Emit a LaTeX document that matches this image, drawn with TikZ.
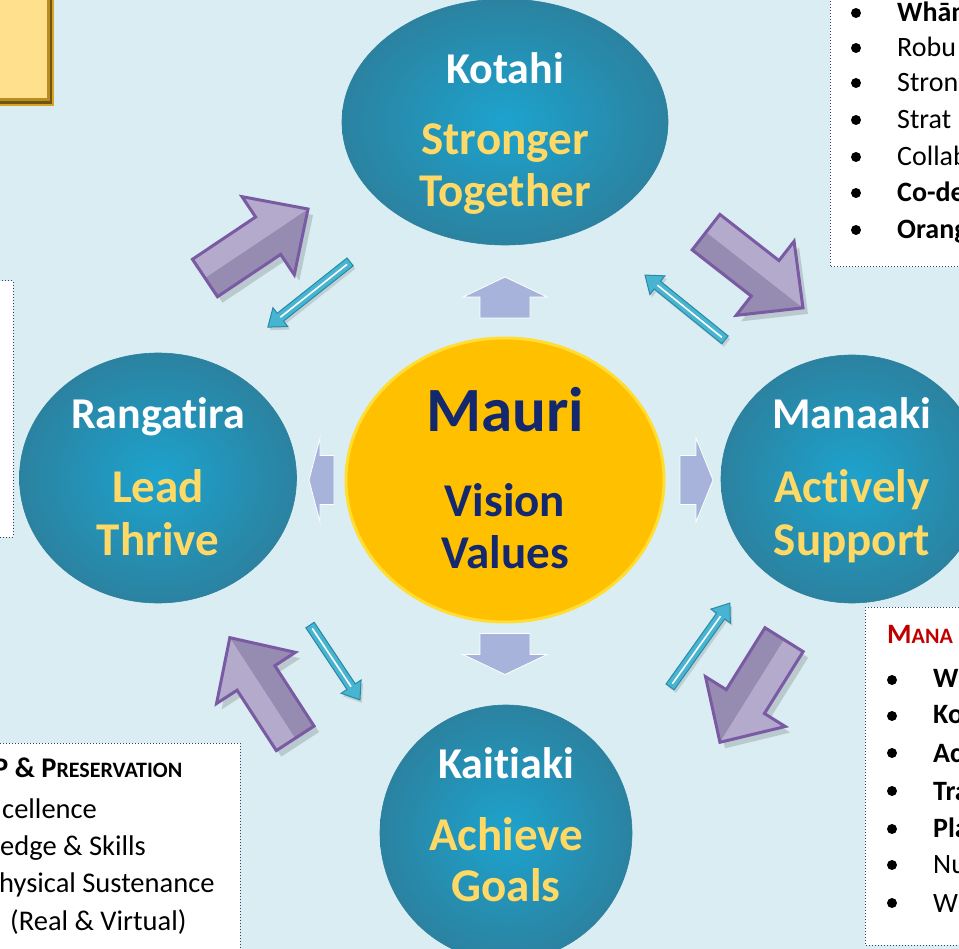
\documentclass[tikz,border=0pt]{standalone}
\usepackage{fontspec}
\setmainfont{Carlito}[Ligatures=NoCommon]
\usetikzlibrary{shapes.geometric}
\definecolor{bgc}{HTML}{DAEDF3}
\definecolor{goldtxt}{HTML}{FFD966}
\definecolor{navytxt}{HTML}{14286E}
\definecolor{tealin}{HTML}{1DA3CE}
\definecolor{tealout}{HTML}{2B82A0}
\definecolor{mauriY}{HTML}{FFC000}
\definecolor{mauriE}{HTML}{FFDD33}
\definecolor{purpA}{HTML}{968CB2}
\definecolor{purpL}{HTML}{B3AACC}
\definecolor{purpE}{HTML}{7A5AA2}
\definecolor{cyanA}{HTML}{47B4D1}
\definecolor{cyanE}{HTML}{2A8AA5}
\definecolor{periA}{HTML}{A7B3DA}
\definecolor{redtxt}{HTML}{C00000}
\definecolor{boxline}{HTML}{34406A}
\definecolor{yelbox}{HTML}{FFE08C}
\definecolor{yeldark}{HTML}{6E5416}
\definecolor{yelgold}{HTML}{D9A520}

% x, y, angle, length, shaft width, head width, head length, style
\newcommand\ArrPath[8]{%
  \begin{scope}[shift={(#1,#2)},rotate=#3]
    \path[#8] ({-(#4)/2},{(#5)/2}) -- ({(#4)/2-(#7)},{(#5)/2}) -- ({(#4)/2-(#7)},{(#6)/2})
      -- ({(#4)/2},0) -- ({(#4)/2-(#7)},{-(#6)/2}) -- ({(#4)/2-(#7)},{-(#5)/2})
      -- ({-(#4)/2},{-(#5)/2}) -- cycle;
  \end{scope}}
\newcommand\PArr[4]{%
  \ArrPath{#1+5}{#2+6}{#3}{#4}{45}{94}{48}{fill=black,opacity=.15}%
  \ArrPath{#1}{#2}{#3}{#4}{45}{94}{48}{fill=purpA}%
  \begin{scope}[shift={(#1,#2)},rotate=#3]
    \fill[purpL] ({-(#4)/2},0) -- ({(#4)/2},0) -- ({(#4)/2-48},-47) -- ({(#4)/2-48},-22.5) -- ({-(#4)/2},-22.5) -- cycle;
  \end{scope}
  \ArrPath{#1}{#2}{#3}{#4}{45}{94}{48}{draw=purpE,line width=3pt,line join=miter}}
\newcommand\CArr[4]{%
  \ArrPath{#1+2}{#2+3}{#3}{#4}{10}{24}{16}{fill=black,opacity=.12}%
  \ArrPath{#1}{#2}{#3}{#4}{10}{24}{16}{fill=cyanA,draw=cyanE,line width=1pt}%
  \begin{scope}[shift={(#1,#2)},rotate=#3]
    \draw[white,line width=1.6pt] ({-(#4)/2+4},0) -- ({(#4)/2-16},0);
  \end{scope}}
\newcommand\SArr[7]{\ArrPath{#1}{#2}{#3}{#4}{#5}{#6}{#7}{fill=periA,draw=white,line width=.8pt}}

\begin{document}
\begin{tikzpicture}[x=1pt,y=-1pt,
  tealc/.style={ellipse,inner sep=0,shading=radial,inner color=tealin,outer color=tealout,draw=tealout,line width=.6pt},
  mauric/.style={ellipse,inner sep=0,fill=mauriY,draw=mauriE,line width=3pt},
  nm/.style={font=\fontsize{44}{50}\selectfont\bfseries,text=white,anchor=base,inner sep=0},
  gd/.style={font=\fontsize{47}{54}\selectfont\bfseries,text=goldtxt,anchor=base,inner sep=0},
  nv/.style={font=\fontsize{47}{54}\selectfont\bfseries,text=navytxt,anchor=base,inner sep=0},
  txtbox/.style={fill=white,draw=boxline,dotted,line width=1pt},
  bl/.style={font=\fontsize{28.5}{33}\selectfont,anchor=base west,inner sep=0},
  tr/.style={font=\fontsize{28}{33}\selectfont,anchor=base west,inner sep=0},
  br/.style={font=\fontsize{28}{33}\selectfont,anchor=base west,inner sep=0},
  bul/.style={fill=black}]
\useasboundingbox (0,0) rectangle (959,949);
\clip (0,0) rectangle (959,949);
\fill[bgc] (0,0) rectangle (959,949);

% top-left yellow box
\fill[yelgold] (-5,-5) rectangle (54,106);
\fill[yeldark] (-5,-5) rectangle (52,104);
\fill[yelgold!70!yeldark] (-5,-5) rectangle (50,101);
\fill[yelbox] (-5,-5) rectangle (47,98);

% text boxes
\path[txtbox] (830,-5) rectangle (970,267);
\path[txtbox] (-5,281) rectangle (13,537);
\path[txtbox] (-5,743) rectangle (240,960);
\path[txtbox] (865,607) rectangle (970,945);

% top-right box text
\foreach \yy in {13,48,83,120,157,193,230} {\fill[bul] (856,\yy) circle[radius=5pt];}
\node[tr] (t1) at (897,22) {\bfseries Whān};
\node[tr] (t2) at (897,57) {Robu};
\node[tr] (t3) at (897,92) {Stron};
\node[tr] (t4) at (897,129) {Strat};
\node[tr] (t5) at (897,166) {Collab};
\node[tr] (t6) at (897,202) {\bfseries Co-de};
\node[tr] (t7) at (897,239) {\bfseries Orang};

% bottom-left box text
\node[bl] (b0) at (-7,777) {\bfseries P \& P{\fontsize{22}{26}\selectfont RESERVATION}};
\node[bl] (b1) at (2,818) {cellence};
\node[bl] (b2) at (0,855) {edge \& Skills};
\node[bl] (b3) at (-1,892) {hysical Sustenance};
\node[bl] (b4) at (10,930) {(Real \& Virtual)};

% bottom-right box text
\node[br,text=redtxt] (r0) at (887,643) {\bfseries M{\fontsize{22}{26}\selectfont ANA}};
\foreach \yy in {680,716,753,791,829,865,903} {\fill[bul] (892,\yy) circle[radius=5pt];}
\node[br] (r1) at (933,687) {\bfseries W};
\node[br] (r2) at (933,723) {\bfseries Ko};
\node[br] (r3) at (933,762) {\bfseries Ac};
\node[br] (r4) at (933,800) {\bfseries Tra};
\node[br] (r5) at (933,837) {\bfseries Pla};
\node[br] (r6) at (933,873) {Nu};
\node[br] (r7) at (933,912) {W};

% circles
\node[tealc,minimum width=326pt,minimum height=246pt] (kotahi) at (505,122) {};
\node[tealc,minimum width=277pt,minimum height=250pt] (rangatira) at (158,478) {};
\node[tealc,minimum width=262pt,minimum height=248pt] (manaaki) at (852,479) {};
\node[tealc,minimum width=252pt,minimum height=256pt] (kaitiaki) at (506,833) {};
\node[mauric,minimum width=318pt,minimum height=284pt] (mauri) at (505,480) {};

% circle texts
\node[nm] (kotahiA) at (505,84) {Kotahi};
\node[gd] (kotahiB) at (505,155) {Stronger};
\node[gd] (kotahiC) at (505,207) {Together};
\node[nv,font=\fontsize{63}{70}\selectfont\bfseries] (mauriA) at (505,432) {Mauri};
\node[nv] (mauriB) at (505,517) {Vision};
\node[nv] (mauriC) at (505,568) {Values};
\node[nm] (rangA) at (158,429) {Rangatira};
\node[gd] (rangB) at (158,503) {Lead};
\node[gd] (rangC) at (158,555) {Thrive};
\node[nm] (manA) at (852,429) {Manaaki};
\node[gd] (manB) at (852,503) {Actively};
\node[gd] (manC) at (852,555) {Support};
\node[nm] (kaiA) at (506,778) {Kaitiaki};
\node[gd] (kaiB) at (506,850) {Achieve};
\node[gd] (kaiC) at (506,901) {Goals};

% small arrows around Mauri
\SArr{505}{297.5}{90}{41}{50}{84}{20}
\SArr{505}{654}{-90}{41}{50}{84}{20}
\SArr{321.5}{480}{180}{25}{49}{84}{11}
\SArr{696.5}{480}{0}{33}{49}{84}{17}

% purple block arrows
\PArr{256.5}{243.5}{33.8}{124}
\PArr{754.5}{270}{-38}{123}
\PArr{262.5}{688}{123}{120}
\PArr{752}{691}{238}{121}

% thin cyan arrows
\CArr{309}{294.5}{218.4}{105}
\CArr{685}{307.5}{141}{103}
\CArr{335}{662.5}{-56.3}{90}
\CArr{700}{645}{54.5}{103}
\end{tikzpicture}
\end{document}
